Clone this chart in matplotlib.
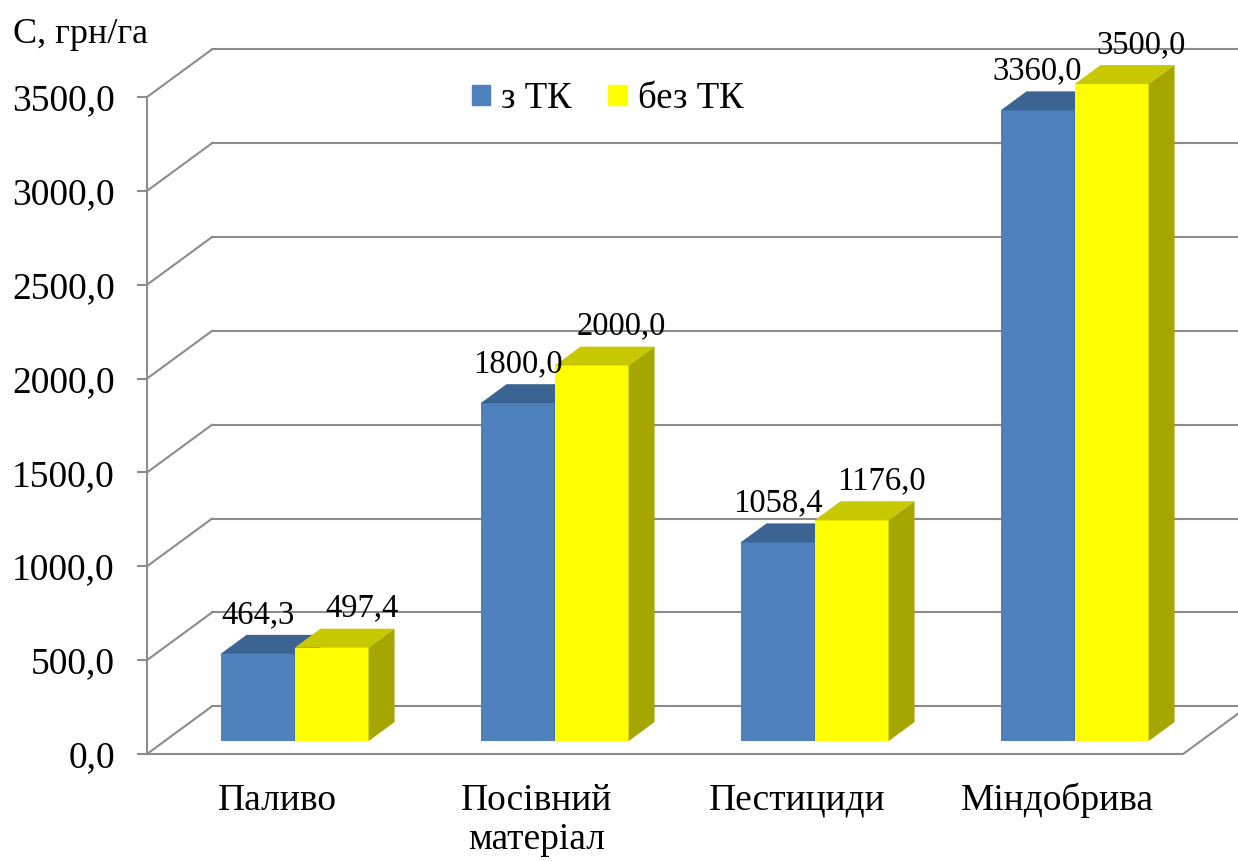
import numpy as np
import matplotlib.pyplot as plt
from matplotlib.patches import Polygon, Patch

# cost per hectare, UAH
categories = ['Паливо', 'Посівний\nматеріал', 'Пестициди', 'Міндобрива']
with_tk = [464.3, 1800.0, 1058.4, 3360.0]
without_tk = [497.4, 2000.0, 1176.0, 3500.0]
series_names = ['з ТК', 'без ТК']
yticks = np.arange(0, 3501, 500)

plt.rcParams['font.family'] = ['Liberation Serif', 'DejaVu Serif']

W, H = 1238, 861
fig = plt.figure(figsize=(W / 100, H / 100), dpi=100)
ax = fig.add_axes([0, 0, 1, 1])

# scales: 260 px per category, 0.1877 px per hryvnia
px_cat = 260.0
px_val = 0.1877
x0_px = 277.0
y0_px = 754.0
ax.set_xlim(-x0_px / px_cat, (W - x0_px) / px_cat)
ax.set_ylim(-(H - y0_px) / px_val, y0_px / px_val)

# fake 3d: depth offset of the back wall, bars sit between d0 and d1
DX = 65 / px_cat
DY = 47.7 / px_val
d0, d1 = 0.27, 0.67
bw = 74 / px_cat
x_axis = -0.5
x_floor = 3.485
grid = '#8C8C8C'
lw = 1.5

front = ['#4F81BD', '#FFFF00']
top = ['#3C6492', '#C8C800']
side = ['#385D8A', '#A6A600']

# walls and floor
xr = ax.get_xlim()[1] + 1
for t in yticks:
    ax.plot([x_axis + DX, xr], [t + DY, t + DY], color=grid, lw=lw, zorder=1)
    ax.plot([x_axis, x_axis + DX], [t, t + DY], color=grid, lw=lw, zorder=1)
ax.plot([x_axis, x_floor, x_floor + DX], [0, 0, DY], color=grid, lw=lw, zorder=1)

for s, vals in enumerate([with_tk, without_tk]):
    xc = np.arange(len(categories)) + (s - 0.5) * bw + d0 * DX
    base = d0 * DY
    ax.bar(xc, vals, width=bw, bottom=base, color=front[s], zorder=3 + s)
    ddx, ddy = (d1 - d0) * DX, (d1 - d0) * DY
    for x, v in zip(xc, vals):
        xa, xb = x - bw / 2, x + bw / 2
        yt = base + v
        ax.add_patch(Polygon([(xa, yt), (xb, yt), (xb + ddx, yt + ddy), (xa + ddx, yt + ddy)],
                             closed=True, facecolor=top[s], edgecolor='none', zorder=3 + s))
        ax.add_patch(Polygon([(xb, base), (xb, yt), (xb + ddx, yt + ddy), (xb + ddx, base + ddy)],
                             closed=True, facecolor=side[s], edgecolor='none', zorder=3 + s))
        lx = x + (30 / px_cat if s == 1 else 0)
        ax.text(lx, yt + 31 / px_val, f'{v:.1f}'.replace('.', ','), ha='center', va='baseline',
                fontsize=23.5, zorder=6)

# category labels under the floor
for i, name in enumerate(categories):
    ax.text(i, (y0_px - 783) / px_val, name, ha='center', va='top', fontsize=27,
            linespacing=1.2, multialignment='center')

# value axis on the front left edge
for sp in ['top', 'right', 'bottom']:
    ax.spines[sp].set_visible(False)
ax.spines['left'].set_position(('data', x_axis))
ax.spines['left'].set_bounds(0, 3500)
ax.spines['left'].set_color(grid)
ax.spines['left'].set_linewidth(lw)
ax.set_xticks([])
ax.set_yticks(yticks)
ax.set_yticklabels([f'{t:.1f}'.replace('.', ',') for t in yticks])
ax.tick_params(axis='y', direction='out', length=7.2, width=lw, color=grid, pad=16, labelsize=27)
ax.patch.set_visible(False)

handles = [Patch(color=front[0]), Patch(color=front[1])]
fig.legend(handles, series_names, loc='center', bbox_to_anchor=(607.5 / W, 1 - 99 / H), ncol=2,
           frameon=False, fontsize=26.5, handlelength=0.5, handleheight=0.45,
           handletextpad=0.3, columnspacing=1.0)

fig.text(13 / W, 1 - 43 / H, 'С, грн/га', fontsize=26, ha='left', va='baseline')

fig.savefig('out.png', dpi=100)
